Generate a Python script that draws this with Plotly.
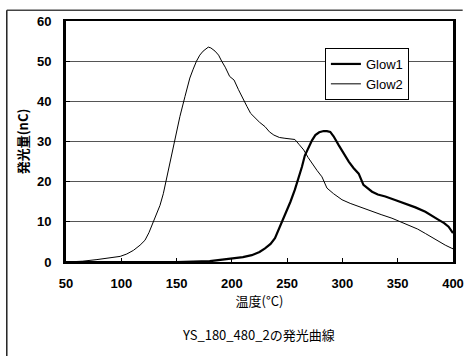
import plotly.graph_objects as go

glow1_temp = [50, 100, 150, 180, 200, 210, 218, 225, 230, 235, 239, 242, 245, 249, 253, 257, 260.5,
              263.4, 266, 269.5, 272.5, 275.5, 279, 283, 286, 289, 292, 296.6, 301, 305.7, 310,
              314.7, 319, 323, 326.8, 332, 338.8, 347, 356.9, 366, 375, 381, 387, 392, 396, 400]
glow1_val = [0, 0, 0, 0.2, 0.9, 1.2, 1.7, 2.5, 3.4, 4.5, 5.9, 7.8, 10, 12.5, 15, 18, 20.9,
             23.7, 26.5, 28.7, 30.3, 31.6, 32.3, 32.6, 32.6, 32.4, 31.3, 29.1, 27, 25, 23.4,
             22, 19.2, 18.2, 17.5, 16.8, 16.3, 15.5, 14.6, 13.6, 12.5, 11.6, 10.5, 9.7, 8.8, 7.2]

glow2_temp = [50, 65, 78, 90, 99, 105, 111, 117, 121.4, 125, 129, 132, 135, 138, 141, 144,
              147, 150, 153, 157.6, 162, 165, 168, 171, 174, 178.7, 181, 184.8, 188, 190.8, 194,
              198, 202, 206, 210, 213.7, 217, 221, 225, 230, 234, 238, 243, 248, 252, 257, 261,
              265, 269, 272.5, 277, 281.5, 286, 292, 299.6, 307, 314.7, 320, 326.8, 335, 344.8,
              352, 360, 368, 375, 381, 387, 393, 399, 400]
glow2_val = [0, 0.2, 0.6, 1.0, 1.4, 2.0, 2.9, 4.2, 5.4, 7.3, 10, 12, 14.1, 17, 20.8, 24.5,
             28.5, 32.5, 36.2, 41.2, 45.8, 48, 50, 51.5, 52.5, 53.5, 53.3, 52.5, 51.5, 50, 48.5,
             46.2, 45.3, 42.9, 40.5, 38.7, 37, 35.8, 34.8, 33.7, 32.4, 31.6, 31, 30.8, 30.7, 30.5, 29.2,
             27.9, 26, 24.5, 22.8, 21.2, 18.4, 17, 15.5, 14.6, 13.8, 13.3, 12.5, 11.8, 10.9,
             10, 9.2, 8.2, 7.1, 6.1, 5, 4.2, 3.4, 3.3]

x_ticks = [50, 100, 150, 200, 250, 300, 350, 400]
y_ticks = [0, 10, 20, 30, 40, 50, 60]

font_family = "Liberation Sans, Arial, Noto Sans CJK JP, sans-serif"
cjk_font = "Noto Sans CJK JP, sans-serif"

fig = go.Figure()
fig.add_trace(go.Scatter(x=glow1_temp, y=glow1_val, mode="lines", name="Glow1",
                         line=dict(color="black", width=2.2)))
fig.add_trace(go.Scatter(x=glow2_temp, y=glow2_val, mode="lines", name="Glow2",
                         line=dict(color="black", width=1)))

fig.update_layout(
    width=464, height=356,
    margin=dict(l=66, r=11, t=21, b=94),
    paper_bgcolor="white", plot_bgcolor="white",
    font=dict(family=font_family, size=13, color="black"),
    showlegend=True,
    legend=dict(x=0.669, y=0.888, xanchor="left", yanchor="top",
                bgcolor="white", bordercolor="black", borderwidth=1,
                tracegroupgap=0,
                font=dict(size=13, family=font_family)),
    xaxis=dict(range=[50, 400], tickvals=x_ticks, ticktext=[f"<b>{v}</b>" for v in x_ticks],
               automargin=False,
               showgrid=False, zeroline=False, showline=True, linecolor="black", linewidth=2,
               mirror=True, ticks="inside", ticklen=4, tickcolor="black",
               ticklabelstandoff=8,
               tickfont=dict(size=13, family=font_family),
               title=dict(text="温度(°C)", font=dict(size=13, family=cjk_font), standoff=4)),
    yaxis=dict(range=[0, 60], tickvals=y_ticks, ticktext=[f"<b>{v}</b>" for v in y_ticks],
               automargin=False,
               showgrid=True, gridcolor="#555", gridwidth=1, zeroline=False,
               showline=True, linecolor="black", linewidth=3, mirror=True,
               ticks="inside", ticklen=4, tickcolor="black",
               ticklabelstandoff=9,
               tickfont=dict(size=13, family=font_family),
               title=dict(text="<b>発光量(nC)</b>", font=dict(size=13, family=cjk_font), standoff=6)),
    shapes=[
        dict(type="line", xref="paper", yref="paper", x0=-0.153, x1=1.025, y0=1.045, y1=1.045,
             line=dict(color="#444", width=1.5)),
        dict(type="line", xref="paper", yref="paper", x0=-0.153, x1=-0.153, y0=1.045, y1=-0.5,
             line=dict(color="#222", width=1.5)),
    ],
    annotations=[
        dict(text="YS_180_480_2の発光曲線", xref="paper", yref="paper", x=0.497, y=-0.30,
             xanchor="center", yanchor="middle", showarrow=False,
             font=dict(size=13, family=cjk_font)),
    ],
)

fig.write_html("out.html", config={"displayModeBar": False},
               post_script="document.body.style.margin='0';document.body.style.overflow='hidden';")
